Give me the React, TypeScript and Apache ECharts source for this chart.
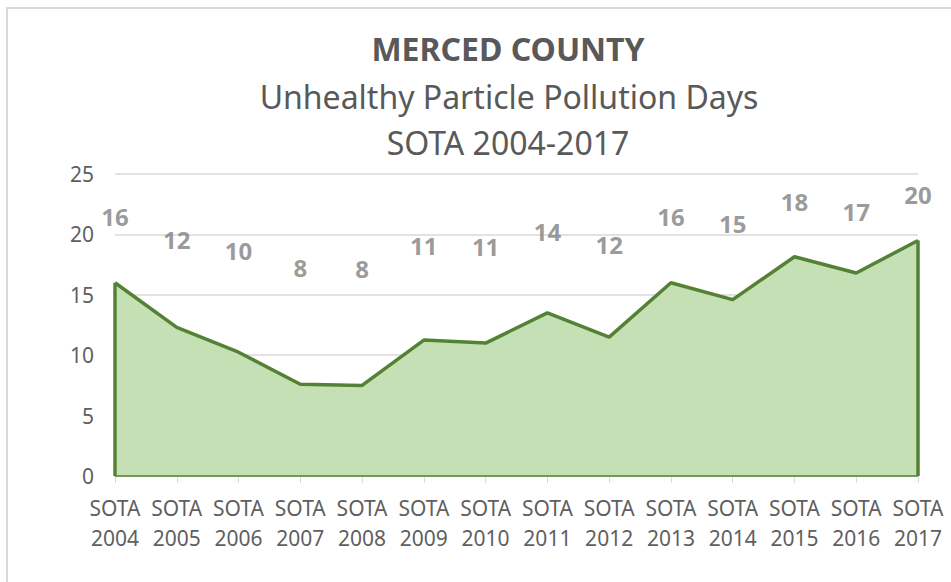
import React, { useEffect, useRef } from "react";
import * as echarts from "echarts";

const categories = [
  "SOTA\n2004", "SOTA\n2005", "SOTA\n2006", "SOTA\n2007", "SOTA\n2008", "SOTA\n2009", "SOTA\n2010",
  "SOTA\n2011", "SOTA\n2012", "SOTA\n2013", "SOTA\n2014", "SOTA\n2015", "SOTA\n2016", "SOTA\n2017",
];
const pollutionDays = [16, 12.3, 10.25, 7.6, 7.5, 11.25, 11, 13.5, 11.5, 16, 14.6, 18.15, 16.8, 19.5];
const dayLabels = [16, 12, 10, 8, 8, 11, 11, 14, 12, 16, 15, 18, 17, 20];
const labelLevels = [21.5, 19.6, 18.7, 17.25, 17.2, 19.1, 19.0, 20.2, 19.15, 21.5, 20.9, 22.7, 21.9, 23.3];
const yTicks = { min: 0, max: 25, interval: 5 };
const titleLines = ["MERCED COUNTY", "Unhealthy Particle Pollution Days", "SOTA 2004-2017"];

export default function App() {
  const ref = useRef<HTMLDivElement>(null);
  useEffect(() => {
    if (!ref.current) return;
    const chart = echarts.init(ref.current, undefined, { renderer: "svg" });
    const font = "'Noto Sans', sans-serif";
    const green = "#548235";
    const last = categories.length - 1;
    chart.setOption({
      animation: false,
      backgroundColor: "#ffffff",
      textStyle: { fontFamily: font },
      graphic: [
        {
          type: "rect",
          shape: { x: 7, y: 8, width: 1200, height: 1000 },
          style: { fill: "none", stroke: "#d9d9d9", lineWidth: 2 },
          silent: true,
        },
        {
          type: "text", x: 508, y: 48,
          style: { text: titleLines[0], fontFamily: font, fontSize: 32, fontWeight: "bold", fill: "#595959", textAlign: "center", textVerticalAlign: "middle" },
        },
        {
          type: "text", x: 509, y: 96,
          style: { text: titleLines[1], fontFamily: font, fontSize: 32, fill: "#595959", textAlign: "center", textVerticalAlign: "middle" },
        },
        {
          type: "text", x: 508, y: 142,
          style: { text: titleLines[2], fontFamily: font, fontSize: 32, fill: "#595959", textAlign: "center", textVerticalAlign: "middle" },
        },
      ],
      grid: { left: 115, right: 33, top: 174, bottom: 106, containLabel: false },
      xAxis: {
        type: "category",
        data: categories,
        boundaryGap: false,
        axisLine: { show: true, lineStyle: { color: "#d9d9d9", width: 1 } },
        axisTick: { show: true, length: 7, lineStyle: { color: "#d9d9d9" } },
        axisLabel: { color: "#5f5f5f", fontSize: 21, lineHeight: 30, margin: 17, fontFamily: font, interval: 0 },
        splitLine: { show: false },
      },
      yAxis: {
        type: "value",
        min: yTicks.min,
        max: yTicks.max,
        interval: yTicks.interval,
        axisLine: { show: false },
        axisTick: { show: false },
        axisLabel: { color: "#5f5f5f", fontSize: 21, margin: 21, fontFamily: font },
        splitLine: { lineStyle: { color: "#d9d9d9", width: 1.5 } },
      },
      series: [
        {
          type: "line",
          data: pollutionDays,
          showSymbol: false,
          symbol: "none",
          lineStyle: { color: green, width: 3.5 },
          areaStyle: { color: "#c5e0b4", opacity: 1 },
          markLine: {
            silent: true,
            symbol: "none",
            label: { show: false },
            lineStyle: { color: green, type: "solid" },
            data: [
              [
                { coord: [0, 0], lineStyle: { color: green, width: 3.5, type: "solid" } },
                { coord: [0, pollutionDays[0]] },
              ],
              [
                { coord: [last, 0], lineStyle: { color: green, width: 3.5, type: "solid" } },
                { coord: [last, pollutionDays[last]] },
              ],
              [
                { coord: [0, 0], lineStyle: { color: green, width: 1.5, type: "solid" } },
                { coord: [last, 0] },
              ],
            ],
          },
          z: 2,
        },
        {
          type: "scatter",
          data: labelLevels,
          symbolSize: 1,
          itemStyle: { color: "transparent" },
          label: {
            show: true,
            position: "inside",
            formatter: (p: any) => String(dayLabels[p.dataIndex]),
            color: "#7f7f7f",
            fontSize: 24,
            fontWeight: "bold",
            fontFamily: font,
          },
          z: 3,
          silent: true,
        },
      ],
    });
    return () => chart.dispose();
  }, []);
  return (
    <div
      ref={ref}
      style={{ position: "fixed", left: 0, top: 0, width: 951, height: 582 }}
    />
  );
}
